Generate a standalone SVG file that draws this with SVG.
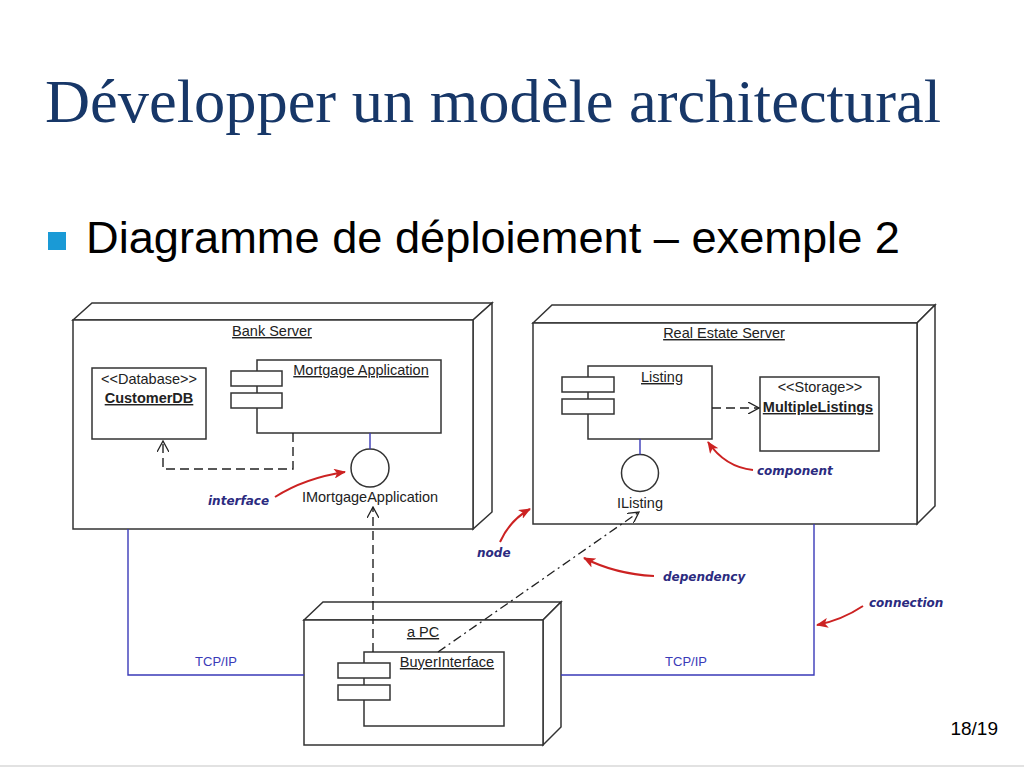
<svg xmlns="http://www.w3.org/2000/svg" width="1024" height="768" viewBox="0 0 1024 768">
<defs>
<style>
.box{fill:#fff;stroke:#333;stroke-width:1.5}
.lbl{font-family:"Liberation Sans",Arial,sans-serif;font-size:14.5px;fill:#222}
.u{text-decoration:underline}
.b{font-weight:bold}
.dep{fill:none;stroke:#222;stroke-width:1.4;stroke-dasharray:9,5}
.dd{fill:none;stroke:#222;stroke-width:1.3;stroke-dasharray:9,4,2,4}
.conn{fill:none;stroke:#3a3ab8;stroke-width:1.4}
.ann{font-family:"DejaVu Sans",Verdana,sans-serif;font-size:12px;font-weight:bold;font-style:italic;fill:#2b2b7f}
.red{fill:none;stroke:#cc2222;stroke-width:2}
.tcp{font-family:"Liberation Sans",Arial,sans-serif;font-size:13px;fill:#3a3ab8}
</style>
<marker id="open" viewBox="0 0 12 12" refX="11" refY="6" markerWidth="12" markerHeight="12" markerUnits="userSpaceOnUse" orient="auto">
<path d="M0,0 L11,6 L0,12" fill="none" stroke="#222" stroke-width="1.3"/>
</marker>
<marker id="redhead" viewBox="0 0 12 10" refX="11" refY="5" markerWidth="12" markerHeight="10" markerUnits="userSpaceOnUse" orient="auto">
<path d="M0,0 L12,5 L0,10 L3,5 z" fill="#cc2222"/>
</marker>
</defs>
<rect width="1024" height="768" fill="#fff"/>
<line x1="0" y1="766" x2="1024" y2="766" stroke="#e2e2e2" stroke-width="2"/>

<text x="45" y="122" font-family="Liberation Serif,Times New Roman,serif" font-size="62" fill="#173768" textLength="896" lengthAdjust="spacingAndGlyphs">Développer un modèle architectural</text>
<rect x="48" y="232" width="18" height="18" fill="#1a9ad6"/>
<text x="86" y="253" font-family="Liberation Sans,Arial,sans-serif" font-size="44" fill="#000" textLength="814" lengthAdjust="spacingAndGlyphs">Diagramme de déploiement – exemple 2</text>
<text x="998" y="735" font-family="Liberation Sans,Arial,sans-serif" font-size="19" fill="#000" text-anchor="end">18/19</text>

<g id="bank-server">
<polygon class="box" points="73,320 92,303 492,303 473,320"/>
<polygon class="box" points="473,320 492,303 492,512 473,529"/>
<rect class="box" x="73" y="320" width="400" height="209"/>
<text class="lbl u" x="272" y="336" text-anchor="middle">Bank Server</text>
</g>

<g id="customerdb">
<rect class="box" x="92" y="368" width="114" height="71"/>
<text class="lbl" x="149" y="384" text-anchor="middle" font-size="13">&lt;&lt;Database&gt;&gt;</text>
<text class="lbl b u" x="149" y="403" text-anchor="middle" font-size="14">CustomerDB</text>
</g>

<g id="mortgage-application">
<rect class="box" x="257" y="360" width="184" height="73"/>
<rect class="box" x="231" y="371" width="51" height="15"/>
<rect class="box" x="231" y="393" width="51" height="15"/>
<text class="lbl u" x="361" y="375" text-anchor="middle">Mortgage Application</text>
</g>

<g id="imortgageapplication">
<circle class="box" cx="370" cy="468" r="19"/>
<text class="lbl" x="370" y="502" text-anchor="middle">IMortgageApplication</text>
</g>

<g id="real-estate-server">
<polygon class="box" points="533,323 552,305 935,305 917,323"/>
<polygon class="box" points="917,323 935,305 935,506 917,524"/>
<rect class="box" x="533" y="323" width="384" height="201"/>
<text class="lbl u" x="724" y="338" text-anchor="middle">Real Estate Server</text>
</g>

<g id="listing">
<rect class="box" x="588" y="366" width="124" height="73"/>
<rect class="box" x="562" y="377" width="52" height="15"/>
<rect class="box" x="562" y="399" width="52" height="15"/>
<text class="lbl u" x="662" y="382" text-anchor="middle">Listing</text>
</g>

<g id="multiplelistings">
<rect class="box" x="760" y="377" width="119" height="74"/>
<text class="lbl" x="820" y="392" text-anchor="middle" font-size="13">&lt;&lt;Storage&gt;&gt;</text>
<text class="lbl b u" x="818" y="412" text-anchor="middle" font-size="14">MultipleListings</text>
</g>

<g id="ilisting">
<circle class="box" cx="640" cy="473" r="18.5"/>
<text class="lbl" x="640" y="508" text-anchor="middle">IListing</text>
</g>

<g id="a-pc">
<polygon class="box" points="304,620 323,602 561,602 543,620"/>
<polygon class="box" points="543,620 561,602 561,727 543,745"/>
<rect class="box" x="304" y="620" width="239" height="125"/>
<text class="lbl u" x="423" y="637" text-anchor="middle">a PC</text>
</g>

<g id="buyerinterface">
<rect class="box" x="364" y="652" width="140" height="74"/>
<rect class="box" x="338" y="663" width="52" height="15"/>
<rect class="box" x="338" y="685" width="52" height="15"/>
<text class="lbl u" x="447" y="667" text-anchor="middle">BuyerInterface</text>
</g>

<g id="connectors">
<path class="conn" d="M128,529 V675 H304"/>
<path class="conn" d="M561,675 H814 V524"/>
<path class="conn" d="M370,433 V449"/>
<path class="conn" d="M640,439 V454.5"/>
<path class="dep" d="M293,433 V469 H163 V441" marker-end="url(#open)"/>
<path class="dep" d="M373,652 V507" marker-end="url(#open)"/>
<path class="dep" d="M712,408 H759" marker-end="url(#open)"/>
<path class="dd" d="M438,652 L639,512" marker-end="url(#open)"/>
<text class="tcp" x="216" y="666" text-anchor="middle">TCP/IP</text>
<text class="tcp" x="686" y="666" text-anchor="middle">TCP/IP</text>
</g>

<g id="annotations">
<path class="red" d="M275,497 Q305,478 345,472" marker-end="url(#redhead)"/>
<text class="ann" x="208" y="505">interface</text>
<path class="red" d="M753,470 Q725,467 708,442" marker-end="url(#redhead)"/>
<text class="ann" x="757" y="475">component</text>
<path class="red" d="M500,542 Q510,520 530,509" marker-end="url(#redhead)"/>
<text class="ann" x="477" y="557">node</text>
<path class="red" d="M654,576 Q615,574 584,558" marker-end="url(#redhead)"/>
<text class="ann" x="663" y="581">dependency</text>
<path class="red" d="M863,606 Q842,620 817,625" marker-end="url(#redhead)"/>
<text class="ann" x="869" y="607">connection</text>
</g>
</svg>
